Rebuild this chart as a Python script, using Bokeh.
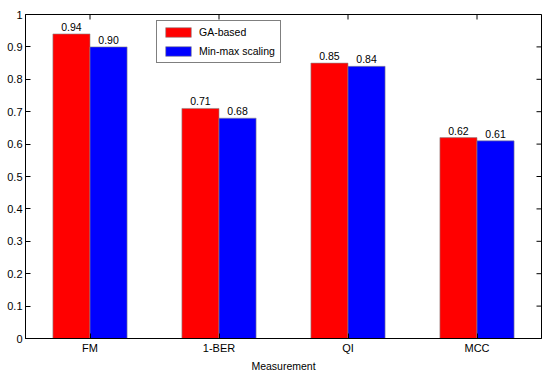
import math
from bokeh.plotting import figure
from bokeh.models import (ColumnDataSource, FactorRange, Range1d, FixedTicker, Legend,
                          LegendItem, LabelSet)
from bokeh.transform import dodge
from bokeh.core.properties import value
from bokeh.embed import file_html
from bokeh.resources import INLINE

categories = ["FM", "1-BER", "QI", "MCC"]
ga_based = [0.94, 0.71, 0.85, 0.62]
min_max = [0.90, 0.68, 0.84, 0.61]
y_ticks = [0, 0.1, 0.2, 0.3, 0.4, 0.5, 0.6, 0.7, 0.8, 0.9, 1]

src = ColumnDataSource(dict(cat=categories, ga=ga_based, mm=min_max,
                            ga_txt=["%.2f" % v for v in ga_based],
                            mm_txt=["%.2f" % v for v in min_max],
                            top=[1] * len(categories)))

FONT = "Liberation Sans"
FS = "10.5px"
AFS = "11px"

p = figure(x_range=FactorRange(*categories, range_padding=0), y_range=Range1d(0, 1),
           frame_width=516, frame_height=324, output_backend="svg", toolbar_location=None,
           min_border_top=14, min_border_right=1, min_border_left=25, min_border_bottom=0)
p.x_range.range_padding = 0
p.grid.visible = False
p.outline_line_color = "black"
p.outline_line_alpha = 1
p.outline_line_width = 1
p.background_fill_color = "white"
p.border_fill_color = "white"

bw = 0.2875
r1 = p.vbar(x=dodge("cat", -bw / 2, range=p.x_range), top="ga", width=bw, source=src,
            fill_color="#ff0000", line_color="#8a8a8a", line_width=0.6)
r2 = p.vbar(x=dodge("cat", bw / 2, range=p.x_range), top="mm", width=bw, source=src,
            fill_color="#0000ff", line_color="#8a8a8a", line_width=0.6)

for col, txt, off in (("ga", "ga_txt", -bw / 2), ("mm", "mm_txt", bw / 2)):
    p.add_layout(LabelSet(x=dodge("cat", off, range=p.x_range), y=col, text=txt, source=src,
                          text_align="center", text_baseline="bottom", y_offset=3,
                          text_font=value(FONT), text_font_size=value(FS),
                          text_color="black"))

# inner tick marks on the top and right edges (box style)
p.scatter(x="cat", y="top", source=src, marker="dash", size=10, angle=math.pi / 2,
          line_color="black", line_width=1)
rsrc = ColumnDataSource(dict(cat=[categories[-1]] * len(y_ticks), y=y_ticks))
p.scatter(x=dodge("cat", 0.5, range=p.x_range), y="y", source=rsrc, marker="dash", size=10,
          line_color="black", line_width=1)

# axes styling
for ax in (p.xaxis[0], p.yaxis[0]):
    ax.major_tick_in = 5
    ax.major_tick_out = 0
    ax.minor_tick_line_color = None
    ax.axis_line_color = "black"
    ax.major_tick_line_color = "black"
    ax.major_label_text_font = FONT
    ax.major_label_text_font_size = AFS
    ax.major_label_text_color = "black"

p.yaxis[0].ticker = FixedTicker(ticks=y_ticks)
p.yaxis[0].major_label_overrides = {0: "0", 1: "1"}
p.yaxis[0].major_label_standoff = 3
p.xaxis[0].major_label_standoff = 3
p.xaxis[0].axis_label = "Measurement"
p.xaxis[0].axis_label_text_font = FONT
p.xaxis[0].axis_label_text_font_size = FS
p.xaxis[0].axis_label_text_font_style = "normal"
p.xaxis[0].axis_label_text_color = "black"
p.xaxis[0].axis_label_standoff = 3

legend = Legend(items=[LegendItem(label="GA-based", renderers=[r1]),
                       LegendItem(label="Min-max scaling", renderers=[r2])],
                location=(131, 275), glyph_width=32, glyph_height=12, label_height=12,
                label_standoff=5, padding=5, spacing=7, margin=0,
                label_text_font=FONT, label_text_font_size=FS, label_text_color="black",
                border_line_color="black", border_line_width=1, background_fill_alpha=1)
p.add_layout(legend)

open("out.html", "w").write(file_html(p, INLINE))
